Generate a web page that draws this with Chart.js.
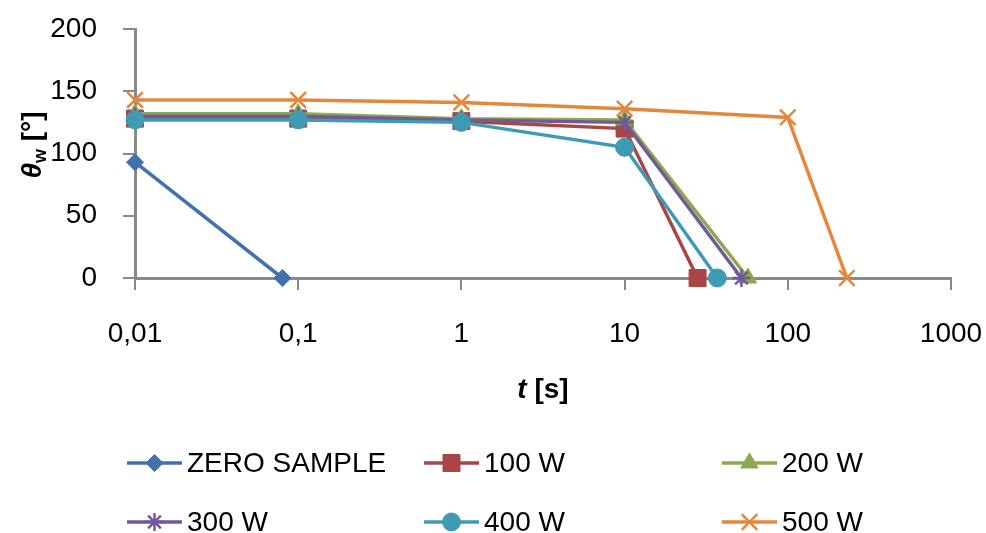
<!DOCTYPE html>
<html>
<head>
<meta charset="utf-8">
<script src="https://cdn.jsdelivr.net/npm/chart.js@4/dist/chart.umd.min.js"></script>
<style>
  html, body { margin: 0; padding: 0; background: #fff; }
  canvas { display: block; }
</style>
</head>
<body>
<canvas id="angleChart" width="986" height="533"></canvas>
<script>
// contact angle vs time, one series per power
const seriesNames = ["ZERO SAMPLE", "100 W", "200 W", "300 W", "400 W", "500 W"];

const timeZero = [0.01, 0.08];
const angleZero = [93, 0];
const time100 = [0.01, 0.1, 1, 10, 28];
const angle100 = [128, 128, 126, 120, 0];
const time200 = [0.01, 0.1, 1, 10, 57];
const angle200 = [132, 132, 128, 127, 0];
const time300 = [0.01, 0.1, 1, 10, 52];
const angle300 = [130, 130, 127, 125, 0];
const time400 = [0.01, 0.1, 1, 10, 37];
const angle400 = [127, 127, 125, 105, 0];
const time500 = [0.01, 0.1, 1, 10, 100, 230];
const angle500 = [143, 143, 141, 136, 129, 0];

const xTickValues = [0.01, 0.1, 1, 10, 100, 1000];
const xTickLabels = ["0,01", "0,1", "1", "10", "100", "1000"];

const colors = ["#4272ae", "#a94544", "#8baa4c", "#73599a", "#3f9ab4", "#e5873a"];
const pointStyles = ["rectRot", "rect", "triangle", "star", "circle", "crossRot"];
const pointSizes = [8.5, 12, 10, 9, 9, 11];

const FONT = "'Liberation Sans', Arial, sans-serif";
Chart.defaults.font.family = FONT;
Chart.defaults.color = "#000";

const allTimes = [timeZero, time100, time200, time300, time400, time500];
const allAngles = [angleZero, angle100, angle200, angle300, angle400, angle500];

const datasets = seriesNames.map((name, i) => ({
  label: name,
  data: allTimes[i].map((t, j) => ({ x: t, y: allAngles[i][j] })),
  borderColor: colors[i],
  backgroundColor: colors[i],
  borderWidth: 3.5,
  pointStyle: pointStyles[i],
  pointRadius: pointSizes[i],
  pointBorderWidth: (pointStyles[i] === "star" || pointStyles[i] === "crossRot") ? 2.5 : 1,
  tension: 0,
  clip: false,
  order: seriesNames.length - i
}));

const GRAY = "#898989";

// axis titles with mixed styles + legend laid out in columns
const extras = {
  id: "extras",
  afterDraw(chart) {
    const ctx = chart.ctx;
    const area = chart.chartArea;
    ctx.save();
    ctx.fillStyle = "#000";
    ctx.textBaseline = "alphabetic";

    // y title: θw [°]
    const big = "bold 28px " + FONT;
    const bigIt = "italic bold 28px " + FONT;
    const sub = "bold 18px " + FONT;
    ctx.save();
    ctx.translate(41, 145);
    ctx.rotate(-Math.PI / 2);
    ctx.font = bigIt; const w1 = ctx.measureText("θ").width;
    ctx.font = sub; const w2 = ctx.measureText("w").width;
    ctx.font = big; const w3 = ctx.measureText(" [°]").width;
    let x = -(w1 + w2 + w3) / 2;
    ctx.font = bigIt; ctx.fillText("θ", x, 0); x += w1;
    ctx.font = sub; ctx.fillText("w", x, 5); x += w2;
    ctx.font = big; ctx.fillText(" [°]", x, 0);
    ctx.restore();

    // x title: t [s]
    ctx.font = bigIt; const t1 = ctx.measureText("t").width;
    ctx.font = big; const t2 = ctx.measureText(" [s]").width;
    let tx = (area.left + area.right) / 2 - (t1 + t2) / 2;
    ctx.font = bigIt; ctx.fillText("t", tx, 398);
    ctx.font = big; ctx.fillText(" [s]", tx + t1, 398);

    // legend
    const colX = [127, 424, 722];
    const rowY = [463, 522];
    ctx.font = "28px " + FONT;
    ctx.textBaseline = "middle";
    chart.data.datasets.forEach((ds, i) => {
      const lx = colX[i % 3];
      const ly = rowY[Math.floor(i / 3)];
      ctx.strokeStyle = ds.borderColor;
      ctx.lineWidth = 3.5;
      ctx.beginPath();
      ctx.moveTo(lx, ly);
      ctx.lineTo(lx + 55, ly);
      ctx.stroke();
      ctx.fillStyle = ds.backgroundColor;
      ctx.lineWidth = ds.pointBorderWidth;
      Chart.helpers.drawPoint(ctx, {
        pointStyle: ds.pointStyle,
        radius: ds.pointRadius,
        rotation: 0,
        borderWidth: ds.pointBorderWidth
      }, lx + 27.5, ly);
      ctx.fillStyle = "#000";
      ctx.fillText(ds.label, lx + 60, ly + 1);
    });
    ctx.restore();
  }
};

new Chart(document.getElementById("angleChart"), {
  type: "line",
  data: { datasets: datasets },
  options: {
    responsive: false,
    animation: false,
    events: [],
    layout: { padding: { top: 29, right: 35, bottom: 175, left: 0 } },
    plugins: {
      legend: { display: false },
      tooltip: { enabled: false }
    },
    scales: {
      x: {
        type: "logarithmic",
        min: 0.01,
        max: 1000,
        afterBuildTicks: (scale) => {
          scale.ticks = xTickValues.map(v => ({ value: v }));
        },
        afterFit: (scale) => {
          scale.height = 80;
          scale.paddingLeft = 0;
          scale.paddingRight = 0;
        },
        ticks: {
          autoSkip: false,
          maxRotation: 0,
          padding: 27,
          font: { size: 28 },
          callback: (value) => xTickLabels[xTickValues.indexOf(value)]
        },
        grid: { drawOnChartArea: false, tickLength: 12, lineWidth: 2, color: GRAY },
        border: { color: GRAY, width: 3 }
      },
      y: {
        min: 0,
        max: 200,
        afterFit: (scale) => {
          scale.width = 135;
          scale.paddingTop = 0;
          scale.paddingBottom = 0;
        },
        ticks: { stepSize: 50, padding: 26, font: { size: 28 } },
        grid: { drawOnChartArea: false, tickLength: 12, lineWidth: 2, color: GRAY },
        border: { color: GRAY, width: 3 }
      }
    }
  },
  plugins: [extras]
});
</script>
</body>
</html>
